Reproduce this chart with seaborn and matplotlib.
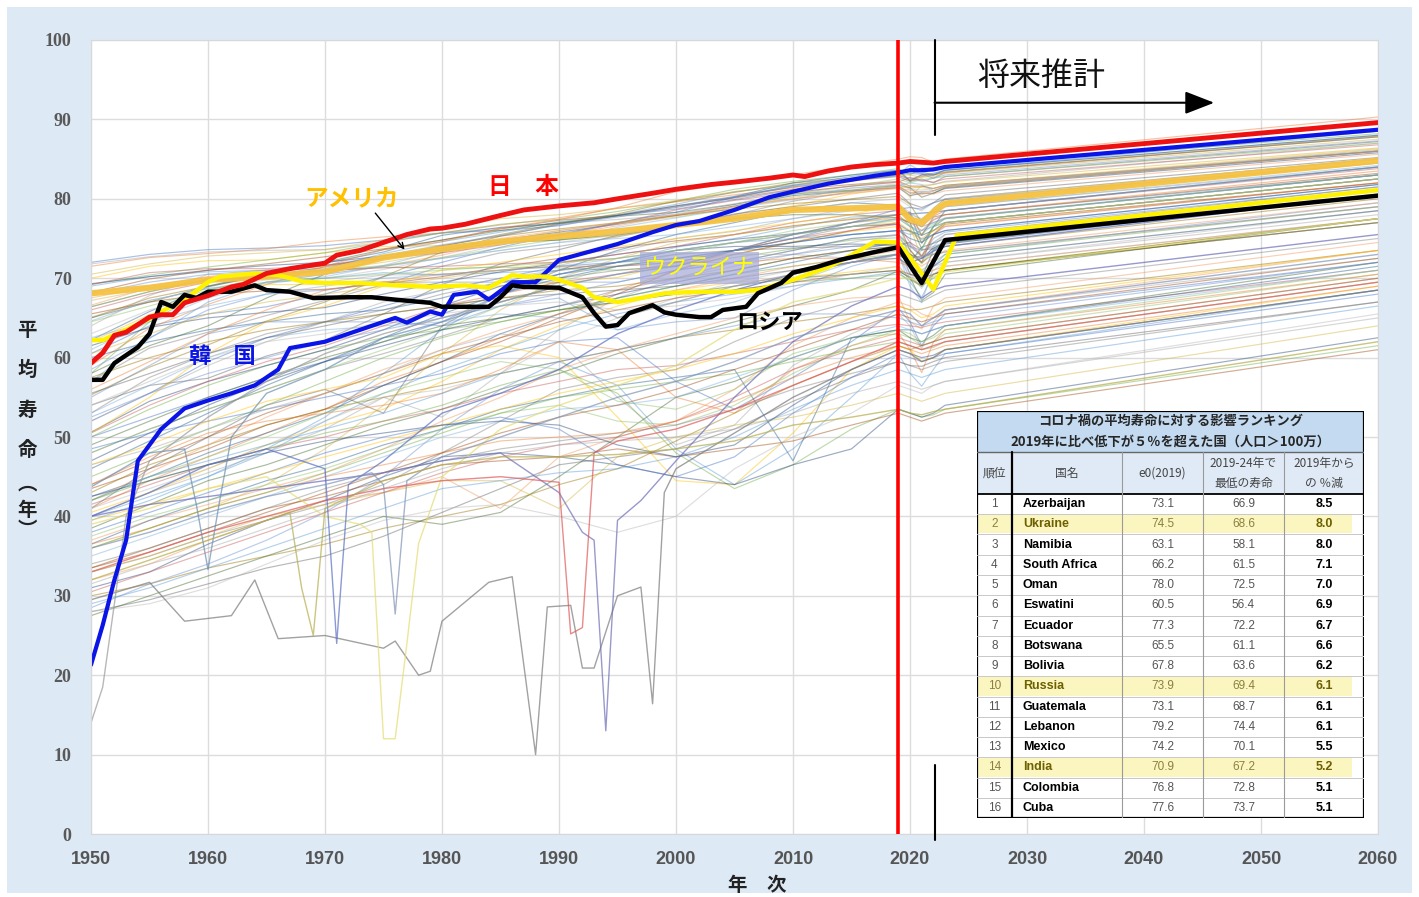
import matplotlib
matplotlib.use('Agg')
import matplotlib.pyplot as plt
import pandas as pd
import seaborn as sns
from matplotlib.patches import Rectangle

# --- data -------------------------------------------------------------------
grid_years = [1950, 1955, 1960, 1965, 1970, 1975, 1980, 1985, 1990, 1995, 2000,
              2005, 2010, 2015, 2019, 2020, 2021, 2022, 2023, 2060]

others_high = [
    [72.0, 73.0, 73.6, 73.8, 74.1, 74.8, 75.7, 76.0, 76.6, 77.9, 78.7, 79.9, 81.1, 82.3, 83.0, 83.2, 83.1, 82.6, 83.3, 87.8],
    [71.5, 72.6, 73.1, 73.7, 74.6, 75.2, 75.7, 76.7, 77.6, 78.8, 79.6, 80.5, 81.4, 82.2, 83.0, 82.4, 83.0, 83.0, 83.3, 87.9],
    [71.8, 72.7, 73.3, 73.5, 73.6, 74.5, 75.7, 76.3, 76.9, 77.4, 78.0, 79.3, 80.8, 81.6, 82.1, 81.3, 81.5, 81.8, 82.2, 87.0],
    [70.0, 71.5, 72.2, 72.3, 73.2, 74.0, 74.1, 74.5, 74.9, 75.3, 76.6, 77.9, 79.1, 80.6, 81.4, 81.5, 81.4, 81.3, 81.7, 86.3],
    [69.0, 70.2, 70.8, 71.0, 71.2, 73.1, 74.6, 75.8, 77.1, 78.0, 79.3, 80.9, 81.7, 82.5, 83.0, 84.3, 83.4, 83.0, 83.6, 88.0],
    [69.2, 70.4, 71.4, 72.3, 73.2, 74.5, 75.7, 76.8, 77.4, 78.4, 79.7, 81.2, 82.2, 83.0, 83.8, 83.0, 83.9, 83.6, 84.0, 88.2],
    [69.3, 70.2, 71.0, 71.6, 72.0, 72.8, 73.7, 74.8, 75.8, 76.8, 77.9, 79.1, 80.4, 81.0, 81.4, 80.4, 80.7, 80.7, 81.3, 85.8],
    [68.2, 69.9, 71.0, 71.8, 72.7, 73.7, 74.8, 76.2, 77.3, 77.9, 79.1, 80.1, 81.2, 81.8, 82.2, 81.6, 81.6, 81.3, 81.7, 86.0],
    [66.4, 68.3, 69.9, 70.8, 71.6, 72.5, 74.1, 75.3, 76.8, 77.9, 78.9, 80.2, 81.5, 82.3, 82.8, 82.2, 82.5, 82.0, 82.8, 87.2],
    [65.0, 67.5, 69.0, 70.3, 71.4, 72.8, 74.0, 75.5, 76.9, 78.1, 79.7, 80.8, 82.0, 82.6, 83.5, 82.2, 82.8, 83.0, 83.4, 87.8],
    [62.2, 65.8, 68.9, 70.5, 71.9, 73.3, 75.4, 76.4, 76.9, 77.9, 79.1, 80.3, 82.0, 83.0, 83.6, 82.3, 83.0, 83.2, 83.6, 88.0],
    [65.0, 67.0, 69.0, 70.7, 72.0, 73.6, 74.8, 76.0, 77.0, 77.8, 78.3, 79.3, 80.6, 81.1, 81.7, 81.4, 80.2, 80.7, 81.4, 86.0],
    [68.0, 69.5, 70.5, 71.0, 71.6, 72.8, 74.2, 75.4, 76.7, 77.7, 79.0, 80.2, 81.6, 82.4, 82.9, 82.6, 82.2, 82.6, 83.0, 87.3],
    [66.6, 68.8, 69.6, 70.3, 70.8, 71.5, 72.9, 74.6, 75.4, 76.6, 77.9, 79.0, 80.0, 80.7, 81.3, 81.1, 80.8, 80.6, 81.0, 85.6],
    [65.1, 67.2, 68.7, 69.8, 70.0, 71.1, 72.6, 74.2, 75.7, 76.8, 78.1, 79.4, 80.6, 81.3, 81.9, 81.2, 81.1, 81.3, 81.6, 86.2],
    [67.2, 68.6, 69.8, 70.5, 71.0, 72.0, 73.2, 74.6, 76.0, 76.9, 77.7, 78.9, 80.2, 81.0, 81.8, 80.2, 81.7, 81.8, 82.1, 86.4],
    [64.6, 67.2, 68.7, 69.3, 70.2, 71.6, 73.5, 74.6, 74.8, 76.4, 77.6, 78.8, 79.9, 81.4, 81.7, 82.0, 81.8, 81.0, 81.6, 86.1],
    [66.4, 68.3, 69.8, 70.5, 71.0, 71.6, 72.6, 73.8, 74.9, 75.6, 76.4, 78.6, 80.6, 81.6, 82.5, 82.0, 82.4, 82.6, 82.8, 87.0],
    [69.2, 70.7, 71.2, 71.2, 71.6, 72.5, 73.2, 74.2, 75.4, 76.9, 78.6, 79.8, 80.8, 81.6, 82.1, 82.7, 82.3, 82.1, 82.5, 86.8],
    [57.0, 61.2, 63.2, 65.3, 67.2, 69.2, 71.5, 73.2, 74.0, 75.2, 76.6, 78.0, 79.7, 80.9, 81.6, 80.7, 80.9, 81.0, 81.5, 86.0],
    [60.5, 64.0, 65.5, 66.4, 68.0, 70.2, 72.0, 73.9, 75.5, 77.0, 78.3, 80.2, 81.7, 82.8, 83.6, 83.5, 83.2, 83.0, 83.6, 88.5],
    [59.0, 63.7, 66.7, 69.2, 71.5, 73.6, 74.6, 76.3, 77.4, 78.9, 80.9, 82.0, 83.0, 84.2, 85.0, 85.3, 85.2, 84.6, 85.0, 90.3],
    [64.0, 67.8, 70.5, 70.3, 69.5, 70.4, 70.5, 71.0, 71.6, 73.3, 75.0, 75.9, 77.5, 78.8, 79.3, 78.3, 77.3, 78.6, 79.0, 84.0],
    [62.0, 65.4, 68.0, 69.2, 69.2, 69.6, 69.1, 69.0, 69.4, 70.1, 71.9, 73.0, 74.6, 75.9, 76.5, 75.8, 74.6, 76.0, 76.6, 82.0],
    [57.0, 62.4, 67.0, 69.5, 70.0, 70.7, 70.4, 70.7, 71.0, 72.0, 73.9, 75.0, 76.4, 77.7, 78.0, 76.6, 75.5, 77.4, 78.0, 83.0],
    [58.0, 64.5, 68.5, 70.2, 71.0, 71.4, 71.2, 71.4, 71.3, 71.0, 71.6, 72.6, 73.7, 74.8, 75.1, 73.6, 71.8, 73.6, 74.4, 80.6],
    [61.5, 63.8, 65.0, 65.7, 66.3, 68.0, 69.5, 70.8, 71.9, 73.0, 74.0, 74.9, 75.6, 76.5, 76.8, 75.9, 75.4, 76.0, 77.0, 82.5],
    [65.5, 67.0, 68.0, 68.4, 68.6, 69.3, 70.2, 71.4, 72.5, 73.8, 74.7, 75.5, 76.6, 77.4, 78.0, 78.3, 75.4, 77.7, 78.0, 83.2],
    [54.0, 56.5, 57.4, 60.2, 62.2, 65.5, 69.2, 71.8, 73.6, 75.4, 76.6, 78.1, 79.0, 80.0, 80.7, 79.4, 78.9, 79.5, 80.5, 85.2],
    [55.3, 58.8, 61.6, 64.6, 67.0, 70.2, 73.3, 75.3, 76.2, 77.0, 77.9, 78.7, 79.4, 79.9, 80.3, 79.3, 77.0, 78.8, 80.0, 85.0],
    [60.0, 62.0, 63.5, 64.5, 65.5, 66.0, 67.5, 69.5, 71.0, 73.5, 75.5, 77.0, 78.5, 79.5, 79.2, 78.0, 74.4, 76.5, 78.5, 84.0],
    [58.0, 61.5, 64.0, 67.5, 70.5, 72.5, 73.5, 74.5, 74.8, 75.5, 76.5, 77.5, 78.0, 78.0, 77.6, 77.0, 73.7, 76.5, 77.5, 83.0],
    [58.5, 62.5, 66.0, 68.0, 68.5, 69.5, 69.5, 69.5, 69.5, 69.5, 71.0, 72.0, 73.5, 75.0, 75.5, 74.2, 72.7, 75.0, 75.8, 81.5],
    [67.5, 69.0, 70.2, 71.0, 71.5, 72.5, 73.8, 75.0, 76.0, 77.0, 78.0, 79.0, 80.0, 80.8, 81.5, 80.8, 80.5, 81.0, 81.5, 86.0],
    [63.0, 66.0, 68.0, 69.5, 70.5, 71.5, 72.5, 73.5, 74.5, 75.5, 76.5, 77.5, 78.5, 79.5, 80.0, 79.0, 78.5, 79.5, 80.0, 85.0],
    [70.5, 71.8, 72.8, 73.2, 73.6, 74.8, 76.2, 77.5, 78.0, 78.8, 79.8, 80.9, 81.8, 82.5, 83.0, 83.0, 82.7, 82.8, 83.2, 87.5],
    [61.0, 64.5, 67.5, 69.5, 70.5, 71.5, 72.5, 73.5, 74.5, 75.0, 75.5, 76.5, 77.5, 78.5, 79.0, 78.0, 77.5, 78.3, 79.0, 84.2],
    [64.5, 66.5, 68.5, 69.5, 70.0, 70.5, 71.0, 71.5, 72.0, 72.5, 73.5, 74.5, 76.0, 77.0, 77.5, 76.5, 75.5, 76.8, 77.5, 83.0],
    [66.0, 68.0, 69.5, 70.5, 71.0, 71.3, 71.5, 71.8, 72.0, 73.0, 74.0, 75.5, 77.0, 78.0, 78.5, 77.5, 76.5, 77.8, 78.5, 83.8],
]

others_mid = [
    [48.0, 51.0, 53.5, 56.0, 58.5, 60.5, 62.7, 65.0, 66.5, 68.5, 70.0, 72.0, 73.5, 75.0, 75.4, 74.0, 72.8, 74.5, 75.5, 81.5],
    [50.0, 52.5, 55.0, 57.5, 59.5, 62.0, 64.5, 68.0, 70.5, 71.5, 72.0, 73.5, 75.0, 77.0, 78.7, 78.9, 78.7, 79.5, 79.9, 84.5],
    [41.0, 44.5, 47.5, 50.5, 53.5, 57.0, 59.5, 62.5, 65.5, 68.5, 71.0, 73.5, 75.5, 77.0, 77.7, 77.0, 76.0, 77.3, 78.0, 83.5],
    [40.0, 43.0, 45.5, 48.0, 51.0, 55.0, 52.5, 58.0, 63.5, 67.5, 70.0, 71.5, 73.0, 74.5, 75.5, 73.0, 72.0, 74.0, 75.5, 81.0],
    [40.5, 43.0, 46.0, 49.0, 51.5, 53.5, 57.0, 61.0, 64.0, 66.5, 68.5, 69.5, 70.0, 70.8, 71.5, 70.0, 69.0, 70.5, 71.0, 77.5],
    [39.5, 42.0, 45.0, 48.0, 52.0, 55.5, 58.5, 61.0, 63.5, 65.5, 67.0, 68.0, 69.0, 70.0, 70.8, 69.5, 67.6, 70.5, 71.0, 77.0],
    [50.0, 53.5, 56.5, 59.0, 61.0, 62.5, 63.5, 64.5, 66.0, 67.0, 68.0, 68.5, 69.5, 70.0, 70.5, 69.8, 69.0, 70.0, 71.0, 77.0],
    [50.6, 54.5, 57.0, 59.0, 61.0, 63.5, 66.5, 69.0, 70.5, 72.0, 73.5, 74.0, 74.0, 74.3, 74.2, 70.5, 70.1, 73.5, 74.3, 80.5],
    [43.5, 46.0, 48.5, 51.5, 53.5, 56.5, 59.5, 62.0, 65.0, 68.0, 71.0, 73.0, 74.5, 76.0, 77.0, 73.5, 72.0, 75.5, 76.8, 82.0],
    [41.0, 46.0, 50.0, 54.0, 56.0, 53.0, 64.0, 68.0, 71.0, 72.0, 73.0, 73.5, 73.8, 74.0, 74.2, 74.5, 73.6, 73.7, 74.5, 80.5],
    [43.0, 46.5, 49.0, 51.5, 53.5, 55.0, 56.5, 58.0, 59.5, 61.0, 62.5, 63.5, 64.5, 65.5, 66.5, 66.0, 66.1, 66.5, 67.0, 73.5],
    [42.5, 45.0, 48.0, 50.5, 53.0, 56.5, 59.5, 63.0, 65.5, 67.5, 69.0, 70.5, 72.0, 73.5, 74.0, 72.0, 73.9, 74.4, 75.0, 81.0],
    [38.5, 41.5, 44.5, 46.5, 49.0, 51.5, 53.5, 56.0, 58.0, 60.5, 62.5, 64.5, 66.5, 68.5, 70.9, 70.1, 67.2, 68.2, 70.5, 77.5],
    [55.0, 59.0, 63.0, 64.5, 64.5, 64.5, 64.0, 66.5, 67.5, 63.5, 64.5, 65.0, 68.5, 71.5, 73.0, 70.0, 70.5, 71.5, 73.0, 79.5],
    [37.0, 39.5, 41.5, 43.5, 45.5, 48.5, 52.0, 55.0, 58.5, 61.0, 63.0, 65.0, 66.5, 67.5, 67.8, 64.5, 63.6, 66.5, 67.5, 74.5],
    [41.0, 43.5, 46.0, 49.0, 52.0, 55.0, 56.0, 58.0, 62.0, 65.0, 67.5, 69.5, 71.0, 72.0, 73.1, 70.5, 68.7, 71.0, 72.0, 78.5],
    [36.0, 38.5, 41.0, 44.0, 48.5, 54.0, 60.5, 66.0, 70.0, 72.5, 74.5, 75.5, 76.5, 77.5, 78.0, 76.5, 72.5, 75.5, 77.0, 82.5],
    [53.0, 56.5, 60.0, 62.5, 63.5, 64.0, 64.5, 65.5, 65.0, 63.5, 65.5, 67.0, 69.5, 72.0, 73.1, 69.0, 66.9, 71.5, 72.5, 78.5],
    [48.0, 51.0, 53.5, 56.0, 58.5, 61.0, 63.5, 66.5, 69.5, 71.5, 73.0, 74.5, 75.5, 76.5, 77.3, 72.2, 73.5, 76.5, 77.0, 82.5],
    [50.5, 54.0, 57.0, 59.5, 61.5, 64.0, 66.5, 68.0, 69.5, 70.5, 72.0, 73.5, 75.0, 76.0, 76.8, 74.5, 72.8, 75.5, 76.5, 82.0],
    [53.0, 57.5, 60.5, 63.0, 64.5, 66.0, 68.0, 69.5, 70.0, 71.0, 71.5, 73.5, 75.0, 76.5, 77.5, 77.0, 76.5, 77.0, 77.6, 83.0],
    [52.0, 55.5, 59.5, 62.5, 64.5, 66.5, 68.5, 70.0, 71.5, 72.0, 72.5, 73.5, 74.5, 75.5, 76.0, 76.0, 74.9, 75.5, 76.0, 81.8],
    [56.0, 59.5, 63.0, 66.0, 68.5, 69.5, 70.5, 71.0, 71.5, 71.5, 72.0, 72.0, 72.5, 72.5, 72.0, 71.5, 70.5, 71.0, 71.5, 77.5],
    [52.0, 55.5, 59.0, 62.0, 64.5, 67.0, 68.5, 70.0, 71.0, 71.5, 72.5, 73.0, 73.0, 72.5, 72.5, 71.5, 70.8, 71.5, 72.0, 78.0],
    [50.5, 55.0, 60.5, 64.5, 66.5, 69.0, 71.0, 72.0, 73.0, 74.0, 75.0, 76.0, 77.0, 78.0, 79.3, 77.5, 76.5, 78.5, 79.5, 84.5],
    [40.0, 42.5, 45.0, 48.5, 52.5, 58.0, 63.5, 68.0, 70.5, 72.0, 73.5, 74.5, 75.0, 75.5, 76.0, 75.5, 76.0, 76.5, 77.0, 82.5],
    [45.0, 48.0, 51.0, 54.0, 57.0, 60.0, 62.5, 64.5, 66.0, 67.5, 69.0, 70.5, 71.5, 72.5, 73.0, 72.0, 71.0, 72.0, 73.0, 79.0],
    [47.0, 50.5, 54.0, 57.0, 59.5, 61.5, 63.5, 65.0, 66.5, 68.0, 69.5, 71.0, 72.5, 73.5, 74.5, 73.0, 72.5, 73.8, 74.5, 80.5],
    [44.0, 47.0, 50.0, 53.0, 55.5, 58.0, 60.5, 62.5, 64.5, 66.0, 67.5, 68.5, 69.5, 70.5, 71.0, 70.5, 70.0, 70.5, 71.0, 77.0],
    [55.5, 58.0, 60.5, 62.5, 64.0, 65.5, 66.5, 67.5, 68.0, 68.5, 69.0, 70.0, 71.0, 72.0, 72.5, 71.5, 70.5, 71.5, 72.5, 78.5],
    [57.5, 60.0, 62.0, 63.5, 64.5, 65.5, 66.5, 67.5, 68.5, 69.0, 70.0, 71.0, 72.5, 73.5, 74.0, 73.0, 72.0, 73.0, 74.0, 80.0],
    [46.0, 49.5, 53.0, 56.5, 59.5, 62.5, 65.5, 68.0, 70.0, 71.5, 72.5, 73.5, 74.5, 75.5, 76.0, 75.0, 74.5, 75.5, 76.0, 81.8],
    [49.0, 52.0, 55.0, 57.5, 60.0, 62.0, 64.0, 65.0, 66.0, 67.0, 68.0, 69.0, 70.0, 70.5, 71.0, 70.0, 69.0, 70.5, 71.0, 77.5],
    [52.5, 55.5, 58.0, 60.0, 62.0, 63.5, 65.0, 66.5, 68.0, 69.5, 71.0, 72.0, 73.0, 74.0, 74.5, 74.0, 73.5, 74.0, 74.5, 80.5],
    [42.0, 45.5, 49.0, 52.5, 55.5, 58.5, 61.0, 63.5, 65.5, 67.0, 68.5, 70.0, 71.5, 72.5, 73.5, 72.5, 71.5, 72.5, 73.5, 79.5],
    [54.0, 57.0, 60.0, 62.0, 63.0, 64.5, 65.5, 66.5, 67.0, 66.0, 66.5, 67.5, 69.0, 70.5, 71.5, 70.0, 69.0, 70.5, 71.5, 77.5],
    [60.5, 63.0, 65.5, 67.0, 68.0, 69.0, 70.0, 71.0, 72.0, 72.5, 73.5, 74.5, 75.5, 76.5, 77.0, 76.0, 75.0, 76.0, 77.0, 82.5],
    [62.5, 64.5, 66.5, 68.0, 69.0, 70.0, 70.5, 71.0, 71.5, 72.5, 73.5, 74.5, 75.5, 76.5, 77.5, 76.5, 76.0, 77.0, 77.5, 83.0],
]

others_low = [
    [42.0, 45.0, 47.5, 50.0, 53.0, 55.5, 57.5, 59.5, 58.5, 54.5, 53.5, 56.0, 60.5, 62.5, 63.0, 62.5, 61.5, 62.0, 63.0, 70.5],
    [41.5, 44.0, 46.5, 48.5, 50.0, 52.0, 53.5, 55.5, 57.0, 58.5, 59.0, 60.5, 62.0, 63.5, 64.2, 64.0, 63.8, 64.2, 64.5, 71.0],
    [33.0, 35.0, 37.5, 39.5, 41.5, 44.0, 48.0, 52.0, 56.0, 57.5, 58.5, 62.0, 65.0, 67.0, 68.0, 67.5, 67.0, 67.8, 68.5, 75.0],
    [48.5, 50.5, 52.0, 53.5, 55.0, 56.5, 58.0, 60.5, 62.0, 62.5, 57.0, 53.5, 57.5, 62.0, 66.2, 64.5, 61.5, 64.0, 65.5, 72.0],
    [44.0, 47.5, 50.5, 52.0, 53.0, 54.0, 55.5, 58.5, 62.0, 61.0, 55.0, 53.0, 58.5, 61.5, 63.1, 61.0, 58.1, 62.0, 63.5, 70.5],
    [46.5, 48.5, 51.0, 53.5, 55.5, 58.0, 61.0, 63.0, 62.0, 55.0, 49.0, 51.5, 59.0, 63.0, 65.5, 64.0, 61.1, 64.5, 66.0, 72.5],
    [46.5, 49.0, 52.0, 54.5, 56.0, 57.5, 60.5, 61.5, 60.0, 52.5, 44.5, 44.0, 50.5, 58.5, 61.5, 61.0, 59.5, 60.0, 61.0, 69.0],
    [42.0, 45.0, 47.0, 49.0, 51.0, 53.0, 55.5, 58.0, 59.5, 56.5, 48.5, 44.0, 48.5, 55.0, 60.5, 58.0, 56.4, 58.5, 60.5, 68.5],
    [42.0, 44.5, 46.5, 48.5, 50.5, 52.0, 54.0, 56.5, 58.5, 55.5, 48.0, 43.5, 46.5, 51.0, 53.5, 53.0, 52.5, 52.8, 53.5, 61.5],
    [31.0, 33.0, 36.5, 39.5, 42.0, 45.0, 47.5, 48.0, 47.5, 46.5, 45.0, 44.0, 46.5, 48.5, 53.5, 53.0, 52.5, 53.0, 54.0, 62.5],
    [33.5, 36.0, 38.5, 41.0, 42.5, 44.5, 46.5, 47.0, 47.5, 48.5, 47.5, 48.5, 49.5, 51.5, 53.0, 52.5, 52.0, 52.5, 53.0, 61.0],
    [28.0, 29.5, 31.5, 33.5, 35.0, 37.5, 40.5, 43.5, 46.5, 47.5, 48.5, 51.0, 54.5, 57.5, 59.5, 59.0, 58.9, 59.5, 60.0, 67.0],
    [30.0, 31.5, 33.5, 35.0, 36.5, 38.5, 40.0, 41.5, 44.0, 46.0, 49.5, 53.0, 56.5, 59.5, 61.5, 61.0, 61.5, 62.0, 62.5, 70.0],
    [36.5, 39.5, 42.0, 44.5, 46.5, 49.0, 51.0, 53.5, 55.0, 56.5, 57.5, 58.5, 47.0, 62.5, 63.5, 63.5, 63.0, 63.5, 64.0, 71.5],
    [27.5, 30.0, 32.5, 35.0, 37.5, 40.0, 39.0, 40.5, 45.0, 50.0, 55.0, 57.0, 60.0, 62.5, 63.5, 62.5, 62.0, 62.8, 64.0, 72.0],
    [28.5, 31.5, 34.0, 37.0, 40.5, 45.0, 51.0, 56.0, 59.5, 61.0, 62.5, 64.0, 65.5, 65.5, 65.0, 64.5, 64.0, 64.5, 65.0, 72.0],
    [32.0, 34.0, 37.0, 39.5, 42.0, 43.0, 45.0, 41.0, 47.5, 50.0, 52.0, 56.0, 61.5, 65.0, 67.0, 66.5, 65.5, 65.0, 66.0, 73.5],
    [28.0, 29.0, 31.0, 34.0, 37.0, 39.5, 41.0, 41.5, 40.0, 38.0, 40.0, 46.0, 50.0, 53.0, 56.5, 56.0, 55.5, 56.5, 57.0, 65.5],
    [33.0, 35.0, 37.5, 40.0, 41.5, 43.0, 44.5, 44.5, 41.0, 47.5, 50.0, 51.5, 52.5, 54.0, 55.5, 55.0, 54.5, 55.0, 55.5, 64.0],
    [35.0, 37.5, 40.0, 42.5, 45.0, 47.5, 50.0, 52.0, 53.5, 54.0, 55.0, 57.5, 60.0, 62.5, 64.0, 63.5, 63.0, 63.5, 64.0, 71.0],
    [37.5, 40.0, 42.0, 44.0, 46.0, 48.5, 51.0, 53.0, 54.0, 52.0, 51.5, 54.0, 58.0, 61.5, 63.5, 63.0, 62.0, 62.5, 63.5, 71.0],
    [30.5, 33.0, 35.5, 38.0, 40.5, 43.0, 45.5, 47.5, 49.0, 50.0, 52.0, 55.0, 58.5, 61.0, 62.5, 62.0, 61.5, 62.0, 62.5, 70.0],
    [34.0, 36.0, 38.5, 41.0, 43.5, 45.5, 47.0, 48.5, 49.5, 50.5, 51.5, 53.5, 56.0, 58.0, 59.5, 59.0, 58.5, 59.0, 59.5, 67.0],
    [38.0, 40.5, 43.0, 45.5, 48.0, 50.0, 51.5, 52.5, 51.0, 46.5, 45.0, 47.5, 53.0, 57.5, 60.5, 60.0, 59.5, 60.0, 60.5, 68.0],
    [36.5, 38.5, 41.0, 43.0, 45.0, 46.5, 48.0, 49.5, 50.0, 50.5, 52.0, 54.5, 57.5, 60.0, 61.5, 61.0, 60.5, 61.0, 61.5, 69.0],
    [31.5, 34.0, 36.0, 38.5, 41.0, 43.5, 46.0, 48.0, 49.0, 49.5, 50.0, 51.0, 53.0, 55.5, 57.0, 56.5, 56.0, 56.5, 57.0, 65.0],
    [39.5, 41.5, 43.5, 45.5, 47.5, 49.5, 51.5, 53.5, 55.5, 57.0, 58.5, 60.5, 63.0, 65.0, 66.5, 66.0, 65.0, 65.5, 66.5, 73.5],
    [29.0, 31.0, 33.5, 36.0, 38.5, 41.0, 43.5, 44.5, 45.5, 46.0, 47.5, 50.0, 53.5, 56.5, 58.5, 58.0, 57.5, 58.0, 58.5, 66.5],
    [36.0, 38.5, 41.0, 43.0, 45.5, 48.0, 50.5, 53.0, 55.0, 56.0, 57.0, 58.0, 59.5, 61.0, 62.0, 61.5, 61.0, 61.3, 62.0, 69.5],
    [42.5, 44.5, 46.5, 48.0, 49.5, 50.5, 51.5, 52.0, 51.5, 49.0, 47.5, 49.0, 54.0, 58.5, 61.0, 60.5, 60.0, 60.3, 61.0, 68.5],
    [33.5, 35.5, 38.0, 40.5, 43.0, 45.5, 48.0, 50.5, 52.5, 54.0, 56.0, 58.5, 61.0, 63.5, 65.5, 65.0, 64.5, 65.0, 65.5, 72.5],
]

# countries with sharp one-off drops, kept on their own year grids
spike_a_years = [1950, 1955, 1958, 1962, 1964, 1966, 1970, 1975, 1976, 1978, 1979, 1980, 1984, 1986, 1988, 1989,
                 1991, 1992, 1993, 1995, 1997, 1998, 1999, 2000, 2005, 2010, 2015, 2019, 2020, 2021, 2022, 2023, 2060]
spike_a = [29.5, 31.7, 26.8, 27.5, 32.0, 24.6, 25.0, 23.4, 24.3, 20.0, 20.5, 26.8, 31.7, 32.4, 10.0, 28.6,
           28.8, 20.9, 20.9, 30.0, 31.1, 16.4, 43.0, 46.0, 50.5, 55.0, 58.5, 61.0, 60.5, 59.5, 60.0, 61.0, 68.5]
cambodia_years = [1950, 1955, 1960, 1965, 1970, 1973, 1974, 1975, 1976, 1977, 1978, 1980, 1985, 1990, 1995, 2000,
                  2005, 2010, 2015, 2019, 2020, 2021, 2022, 2023, 2060]
cambodia = [39.0, 41.0, 43.5, 45.0, 40.0, 39.0, 38.0, 12.0, 12.0, 24.0, 36.6, 45.0, 51.0, 54.0, 56.5, 59.0,
            63.5, 67.0, 68.5, 70.0, 70.0, 69.5, 70.2, 70.8, 77.5]
rwanda_years = [1950, 1955, 1960, 1965, 1970, 1975, 1980, 1985, 1990, 1992, 1993, 1994, 1995, 1997, 2000, 2005,
                2010, 2015, 2019, 2020, 2021, 2022, 2023, 2060]
rwanda = [40.0, 41.5, 42.5, 43.5, 44.5, 45.5, 47.0, 48.0, 43.0, 38.0, 37.0, 13.0, 39.5, 42.0, 47.0, 55.0,
          62.0, 66.5, 69.0, 68.5, 67.5, 68.5, 69.0, 75.5]
spike_r_years = [1950, 1955, 1960, 1965, 1970, 1975, 1980, 1985, 1990, 1991, 1992, 1993, 1995, 2000, 2005, 2010,
                 2015, 2019, 2020, 2021, 2022, 2023, 2060]
spike_r = [33.0, 35.5, 38.0, 40.0, 42.0, 43.5, 44.5, 45.0, 44.3, 25.2, 26.0, 48.0, 49.5, 51.0, 53.5, 56.5,
           59.5, 62.0, 61.5, 61.0, 61.5, 62.0, 69.5]
bangla_years = [1950, 1955, 1960, 1965, 1970, 1971, 1972, 1975, 1980, 1985, 1990, 1995, 2000, 2005, 2010, 2015,
                2019, 2020, 2021, 2022, 2023, 2060]
bangla = [40.0, 43.0, 46.5, 48.5, 46.0, 24.0, 44.0, 47.0, 53.0, 55.5, 58.5, 63.0, 66.0, 68.5, 70.5, 72.0,
          73.0, 72.0, 72.5, 73.4, 74.0, 80.5]
spike_b_years = [1950, 1955, 1960, 1965, 1970, 1974, 1975, 1976, 1977, 1980, 1985, 1990, 1995, 2000, 2005, 2010,
                 2015, 2019, 2020, 2021, 2022, 2023, 2060]
spike_b = [36.0, 38.0, 40.5, 42.5, 44.0, 45.5, 44.0, 27.7, 44.5, 47.5, 50.0, 52.5, 55.0, 57.0, 59.5, 62.5,
           64.5, 66.0, 65.5, 64.0, 65.0, 66.0, 73.0]
china_years = [1950, 1955, 1958, 1959, 1960, 1961, 1962, 1965, 1970, 1975, 1980, 1985, 1990, 1995, 2000, 2005,
               2010, 2015, 2019, 2020, 2021, 2022, 2023, 2060]
china = [43.7, 48.0, 48.5, 41.5, 33.3, 42.0, 50.0, 55.5, 58.5, 62.5, 64.5, 67.0, 69.0, 70.5, 71.5, 73.5,
         75.5, 77.0, 78.0, 78.1, 78.2, 78.3, 78.5, 84.0]
nkorea_years = [1950, 1951, 1952, 1953, 1955, 1960, 1965, 1970, 1975, 1980, 1985, 1990, 1995, 2000, 2005, 2010,
                2015, 2019, 2020, 2021, 2022, 2023, 2060]
nkorea = [14.0, 18.5, 29.0, 40.0, 47.0, 52.5, 57.0, 60.5, 63.0, 65.0, 67.0, 69.0, 65.0, 67.0, 69.0, 70.5,
          72.0, 73.0, 72.5, 72.8, 73.0, 73.3, 79.0]
nigeria_years = [1950, 1955, 1960, 1965, 1967, 1968, 1969, 1970, 1975, 1980, 1985, 1990, 1995, 2000, 2005, 2010,
                 2015, 2019, 2020, 2021, 2022, 2023, 2060]
nigeria = [32.0, 34.5, 37.0, 39.5, 40.5, 31.0, 25.0, 41.0, 44.5, 46.5, 47.5, 47.5, 47.8, 48.5, 49.5, 51.5,
           52.5, 53.5, 53.0, 52.8, 53.2, 53.5, 62.0]

# highlighted countries
japan_years = [1950, 1951, 1952, 1953, 1955, 1956, 1957, 1958, 1960, 1962, 1963, 1965, 1967, 1970, 1971, 1973,
               1975, 1977, 1979, 1980, 1982, 1985, 1987, 1990, 1993, 1995, 1998, 2000, 2003, 2005, 2008, 2010,
               2011, 2013, 2015, 2017, 2019, 2020, 2021, 2022, 2023, 2060]
japan = [59.3, 60.6, 62.8, 63.2, 65.1, 65.4, 65.4, 66.9, 67.8, 68.9, 69.2, 70.6, 71.2, 71.9, 72.9, 73.5,
         74.5, 75.5, 76.2, 76.3, 76.8, 77.9, 78.6, 79.1, 79.5, 80.0, 80.7, 81.2, 81.8, 82.1, 82.6, 83.0,
         82.8, 83.5, 84.0, 84.3, 84.5, 84.7, 84.6, 84.5, 84.7, 89.6]
korea_years = [1950, 1951, 1952, 1953, 1954, 1956, 1958, 1960, 1962, 1964, 1966, 1967, 1970, 1973, 1976, 1977,
               1979, 1980, 1981, 1983, 1984, 1986, 1988, 1990, 1993, 1995, 1998, 2000, 2002, 2005, 2008, 2010,
               2013, 2015, 2017, 2019, 2020, 2021, 2022, 2023, 2060]
korea = [21.3, 26.3, 32.0, 37.0, 47.0, 51.0, 53.6, 54.6, 55.5, 56.5, 58.5, 61.2, 62.0, 63.5, 65.0, 64.4,
         65.8, 65.4, 67.9, 68.3, 67.3, 69.5, 69.5, 72.3, 73.5, 74.3, 75.8, 76.7, 77.2, 78.6, 80.2, 80.9,
         81.9, 82.4, 82.9, 83.3, 83.6, 83.6, 83.7, 84.0, 88.7]
usa = [68.1, 68.8, 69.8, 70.2, 70.8, 72.6, 73.7, 74.6, 75.3, 75.9, 76.7, 77.5, 78.6, 78.8, 79.0, 77.4,
       77.0, 78.3, 79.4, 84.8]
ukraine_years = [1950, 1951, 1953, 1955, 1956, 1958, 1960, 1961, 1964, 1966, 1968, 1970, 1973, 1976, 1979, 1982,
                 1984, 1986, 1987, 1989, 1990, 1992, 1993, 1995, 1997, 1999, 2002, 2005, 2007, 2010, 2013, 2015,
                 2017, 2019, 2020, 2021, 2022, 2023, 2024, 2060]
ukraine = [62.2, 62.2, 63.5, 64.9, 65.8, 67.3, 69.5, 70.2, 70.6, 70.4, 69.6, 69.4, 69.4, 69.1, 68.9, 69.1,
           68.8, 70.4, 70.2, 70.2, 69.8, 68.8, 67.6, 67.0, 67.5, 68.1, 68.3, 68.3, 68.5, 69.8, 71.4, 72.9,
           74.6, 74.5, 72.6, 70.6, 68.6, 72.0, 75.4, 81.1]
russia_years = [1950, 1951, 1952, 1953, 1954, 1955, 1956, 1957, 1958, 1959, 1960, 1962, 1964, 1965, 1967, 1969,
                1972, 1974, 1976, 1979, 1980, 1982, 1984, 1985, 1986, 1987, 1990, 1992, 1993, 1994, 1995, 1996,
                1998, 1999, 2000, 2002, 2003, 2004, 2006, 2007, 2009, 2010, 2012, 2014, 2017, 2019, 2020, 2021,
                2022, 2023, 2060]
russia = [57.2, 57.2, 59.3, 60.3, 61.3, 63.0, 67.0, 66.4, 67.9, 67.5, 68.3, 68.3, 69.1, 68.5, 68.3, 67.5,
          67.6, 67.6, 67.3, 66.9, 66.4, 66.4, 66.4, 67.6, 69.1, 68.9, 68.8, 67.6, 65.6, 63.9, 64.1, 65.6,
          66.6, 65.7, 65.4, 65.1, 65.1, 66.0, 66.4, 68.1, 69.4, 70.7, 71.4, 72.3, 73.3, 73.9, 71.6, 69.4,
          72.1, 74.8, 80.4]

# ranking table
rank = list(range(1, 17))
country_names = ['Azerbaijan', 'Ukraine', 'Namibia', 'South Africa', 'Oman', 'Eswatini', 'Ecuador', 'Botswana',
                 'Bolivia', 'Russia', 'Guatemala', 'Lebanon', 'Mexico', 'India', 'Colombia', 'Cuba']
e0_2019 = [73.1, 74.5, 63.1, 66.2, 78.0, 60.5, 77.3, 65.5, 67.8, 73.9, 73.1, 79.2, 74.2, 70.9, 76.8, 77.6]
e0_min = [66.9, 68.6, 58.1, 61.5, 72.5, 56.4, 72.2, 61.1, 63.6, 69.4, 68.7, 74.4, 70.1, 67.2, 72.8, 73.7]
pct_drop = [8.5, 8.0, 8.0, 7.1, 7.0, 6.9, 6.7, 6.6, 6.2, 6.1, 6.1, 6.1, 5.5, 5.2, 5.1, 5.1]
highlight = ['Ukraine', 'Russia', 'India']

# --- styling ---------------------------------------------------------------
sns.set_style('white')
plt.rcParams['font.family'] = ['Noto Sans CJK JP', 'DejaVu Sans']
W, H = 1419, 897

bg_colors = ['#4472c4', '#ed7d31', '#a5a5a5', '#ffc000', '#5b9bd5', '#70ad47', '#264478', '#9e480e',
             '#636363', '#997300', '#255e91', '#43682b', '#698ed0', '#f1975a', '#b7b7b7', '#d4b43a',
             '#7cafdd', '#8cc168', '#c55a5a', '#7f7f7f']

rows = []
palette = {}
for i, vals in enumerate(others_high + others_mid + others_low):
    assert len(vals) == len(grid_years)
    name = f'c{i:03d}'
    palette[name] = bg_colors[i % len(bg_colors)]
    rows += [(name, y, v) for y, v in zip(grid_years, vals)]
bg = pd.DataFrame(rows, columns=['country', 'year', 'value'])

spikes = [
    ('spike_a', spike_a_years, spike_a, '#7a7a7a'),
    ('cambodia', cambodia_years, cambodia, '#e3dc70'),
    ('rwanda', rwanda_years, rwanda, '#6d6db8'),
    ('spike_r', spike_r_years, spike_r, '#e05858'),
    ('bangla', bangla_years, bangla, '#5b6fc2'),
    ('spike_b', spike_b_years, spike_b, '#8095b5'),
    ('china', china_years, china, '#6d8fb0'),
    ('nkorea', nkorea_years, nkorea, '#9a9a9a'),
    ('nigeria', nigeria_years, nigeria, '#b5ad4a'),
]
srows = []
spal = {}
for name, yrs, vals, col in spikes:
    assert len(yrs) == len(vals)
    spal[name] = col
    srows += [(name, y, v) for y, v in zip(yrs, vals)]
sp = pd.DataFrame(srows, columns=['country', 'year', 'value'])

fig = plt.figure(figsize=(W / 100, H / 100), dpi=100, facecolor='white')
fig.patches.append(Rectangle((7 / W, 4 / H), 1 - 14 / W, 1 - 11 / H, transform=fig.transFigure,
                             facecolor='#dde9f5', edgecolor='none', zorder=-10))

ax = fig.add_axes([91 / W, 1 - 834 / H, (1378 - 91) / W, (834 - 40) / H])
ax.set_facecolor('white')
ax.grid(True, color='#dcdcdc', lw=1)
ax.set_axisbelow(True)

sns.lineplot(data=bg, x='year', y='value', hue='country', palette=palette, estimator=None,
             legend=False, lw=0.85, alpha=0.45, ax=ax)
sns.lineplot(data=sp, x='year', y='value', hue='country', palette=spal, estimator=None,
             legend=False, lw=1.0, alpha=0.7, ax=ax)

sns.lineplot(x=grid_years, y=usa, color='#f5c242', lw=4.5, alpha=0.95, ax=ax)
sns.lineplot(x=korea_years, y=korea, color='#0a14e6', lw=3.0, ax=ax)
sns.lineplot(x=ukraine_years, y=ukraine, color='#fff200', lw=3.2, ax=ax)
sns.lineplot(x=russia_years, y=russia, color='black', lw=3.2, ax=ax)
sns.lineplot(x=japan_years, y=japan, color='#ee1111', lw=3.5, ax=ax)

ax.set_xlim(1950, 2060)
ax.set_ylim(0, 100)
ax.set_xticks(range(1950, 2061, 10))
ax.set_yticks(range(0, 101, 10))
ax.tick_params(length=0)
ax.tick_params(axis='y', pad=14)
ax.tick_params(axis='x', pad=12)
for lab in ax.get_yticklabels():
    lab.set_fontfamily('Liberation Serif')
    lab.set_fontweight('bold')
    lab.set_fontsize(13)
    lab.set_color('#595959')
for lab in ax.get_xticklabels():
    lab.set_fontfamily('Liberation Sans')
    lab.set_fontweight('bold')
    lab.set_fontsize(13)
    lab.set_color('#555555')
ax.set_xlabel('')
ax.set_ylabel('')
for s in ax.spines.values():
    s.set_color('#d8d8d8')

# markers for 2019 and projection
ax.axvline(2019, color='#ff0000', lw=2.6, zorder=6)
ax.plot([2022.1, 2022.1], [88.0, 100.0], color='black', lw=1.5, zorder=6, clip_on=False)
ax.plot([2022.1, 2022.1], [8.7, -0.8], color='black', lw=1.5, zorder=6, clip_on=False)
ax.annotate('', xy=(2046.0, 92.1), xytext=(2022.1, 92.1),
            arrowprops=dict(arrowstyle='-|>,head_length=0.9,head_width=0.35', color='black', lw=1.5,
                            mutation_scale=20, shrinkA=0, shrinkB=0), zorder=6)
ax.text(2031.2, 95.5, '将来推計', fontsize=23, ha='center', va='center', color='#111111')

# series labels
ax.text(1987.0, 81.5, '日　本', fontsize=17, fontweight='bold', color='#ff0000', ha='center', va='center')
ax.text(1972.3, 80.0, 'アメリカ', fontsize=17, fontweight='bold', color='#ffc000', ha='center', va='center')
ax.annotate('', xy=(1976.8, 73.6), xytext=(1974.3, 78.2),
            arrowprops=dict(arrowstyle='->', color='black', lw=1.0, shrinkA=0, shrinkB=0))
ax.text(1961.2, 60.2, '韓　国', fontsize=16, fontweight='bold', color='#0a14e6', ha='center', va='center')
ax.text(2002.0, 71.3, 'ウクライナ', fontsize=16, color='#ffff00', ha='center', va='center', zorder=7,
        bbox=dict(facecolor='#a4a9d8', alpha=0.7, edgecolor='none', pad=3))
ax.text(2008.0, 64.4, 'ロシア', fontsize=16, fontweight='bold', color='black', ha='center', va='center')

# axis titles
fig.text(757 / W, 1 - 885 / H, '年　次', fontsize=14, fontweight='bold', ha='center', va='center',
         color='#222222')
for ch, ypix in [('平', 330), ('均', 370), ('寿', 410), ('命', 450), ('︵', 484), ('年', 510), ('︶', 530)]:
    fig.text(27 / W, 1 - ypix / H, ch, fontsize=14, fontweight='bold', ha='center', va='center',
             color='#222222')

# --- ranking table ---------------------------------------------------------
tax = fig.add_axes([977 / W, 1 - 818 / H, 387 / W, 407 / H])
tax.set_xlim(0, 387)
tax.set_ylim(407, 0)
tax.axis('off')
col_x = [0, 35, 145, 226, 307, 387]
title_h, head_h = 41, 42
top = title_h + head_h
row_h = (407 - top) / len(rank)

tax.add_patch(Rectangle((0, 0), 387, title_h, fc='#c3daf0', ec='none'))
tax.add_patch(Rectangle((0, title_h), 387, head_h, fc='#dfeaf6', ec='none'))
tax.add_patch(Rectangle((0, top), 387, 407 - top, fc='white', ec='none'))
for i, name in enumerate(country_names):
    if name in highlight:
        tax.add_patch(Rectangle((1, top + i * row_h + 1), 374, row_h - 2, fc='#fbf6bf', ec='none'))

for i in range(1, len(rank)):
    y = top + i * row_h
    tax.plot([0, 387], [y, y], color='#c8c8c8', lw=0.7)
tax.plot([0, 387], [title_h, title_h], color='#666666', lw=1.0)
tax.plot([0, 387], [top, top], color='black', lw=1.3)
for j, x in enumerate(col_x[1:-1]):
    tax.plot([x, x], [title_h, 407], color='black' if j == 0 else '#9a9a9a', lw=1.6 if j == 0 else 0.8)
tax.add_patch(Rectangle((0, 0), 387, 407, fc='none', ec='black', lw=1.6))

tax.text(193.5, 10, 'コロナ禍の平均寿命に対する影響ランキング', fontsize=9.5, fontweight='bold',
         ha='center', va='center')
tax.text(193.5, 31, '2019年に比べ低下が５％を超えた国（人口＞100万）', fontsize=9.5, fontweight='bold',
         ha='center', va='center')
heads = ['順位', '国名', 'e0(2019)', '2019-24年で\n最低の寿命', '2019年から\nの ％減']
for j, h in enumerate(heads):
    tax.text((col_x[j] + col_x[j + 1]) / 2, title_h + head_h / 2, h, fontsize=8.5, color='#444444',
             ha='center', va='center', linespacing=1.7)

latin = ['Liberation Sans', 'Noto Sans CJK JP']
for i in range(len(rank)):
    y = top + (i + 0.5) * row_h
    hl = country_names[i] in highlight
    name_c = '#6e6000' if hl else 'black'
    num_c = '#8a8040' if hl else '#555555'
    tax.text(17.5, y, str(rank[i]), fontsize=8.5, family=latin, color=num_c, ha='center', va='center')
    tax.text(46, y, country_names[i], fontsize=9, family=latin, fontweight='bold', color=name_c,
             ha='left', va='center')
    tax.text(185.5, y, f'{e0_2019[i]:.1f}', fontsize=8.5, family=latin, color=num_c, ha='center', va='center')
    tax.text(266.5, y, f'{e0_min[i]:.1f}', fontsize=8.5, family=latin, color=num_c, ha='center', va='center')
    tax.text(347, y, f'{pct_drop[i]:.1f}', fontsize=9, family=latin, fontweight='bold', color=name_c,
             ha='center', va='center')

fig.savefig('out.png', dpi=100, facecolor=fig.get_facecolor())
